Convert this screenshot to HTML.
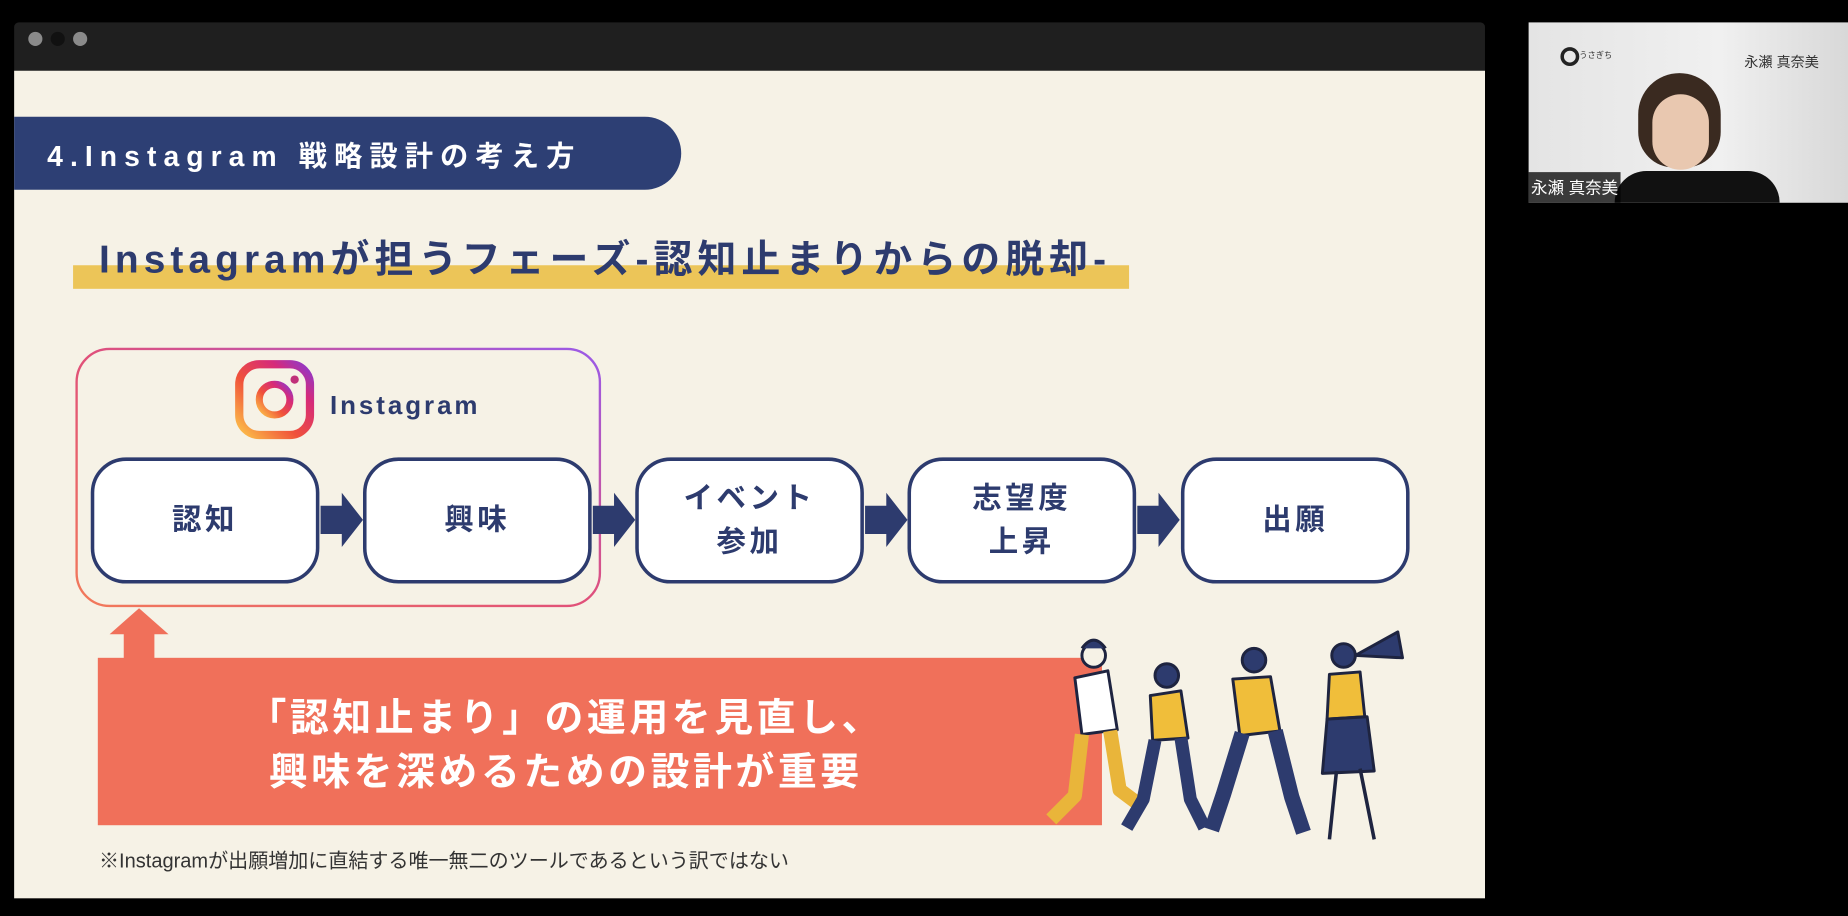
<!DOCTYPE html>
<html><head><meta charset="utf-8"><style>
html,body{margin:0;padding:0;background:#000;width:1848px;height:916px;overflow:hidden}
#w{position:absolute;left:0;top:0;width:1568px;height:777px;transform:scale(1.17857,1.17889);transform-origin:0 0;font-family:"Liberation Sans","Noto Sans CJK JP",sans-serif}
.a{position:absolute}
.box{position:absolute;top:388px;width:188px;height:101px;border:3px solid #2d3b6e;border-radius:30px;background:#fff;color:#2d3b6e;font-weight:bold;font-size:25px;letter-spacing:3px;display:flex;align-items:center;justify-content:center;text-align:center;line-height:37px}
</style></head><body><div id="w">
<div class="a" style="left:12px;top:19px;width:1248px;height:41px;background:#1f1f1f;border-radius:4px 4px 0 0"></div>
<div class="a" style="left:24px;top:27px;width:12px;height:12px;border-radius:50%;background:#8a8a8a"></div>
<div class="a" style="left:43px;top:27px;width:12px;height:12px;border-radius:50%;background:#111"></div>
<div class="a" style="left:62px;top:27px;width:12px;height:12px;border-radius:50%;background:#8a8a8a"></div>
<div class="a" style="left:12px;top:60px;width:1248px;height:702px;background:#f6f2e6"></div>
<div class="a" style="left:12px;top:99px;width:566px;height:62px;background:#2d3f74;border-radius:0 31px 31px 0"></div>
<div class="a" style="left:40px;top:113px;color:#fff;font-weight:bold;font-size:24px;letter-spacing:6px;white-space:nowrap">4.Instagram 戦略設計の考え方</div>
<div class="a" style="left:62px;top:225px;width:896px;height:20px;background:#ecc558"></div>
<div class="a" style="left:84px;top:193px;color:#2d3b6e;font-weight:bold;font-size:33px;letter-spacing:4.3px;white-space:nowrap">Instagramが担うフェーズ-認知止まりからの脱却-</div>
<svg class="a" style="left:0;top:0" width="1568" height="777">
<defs><linearGradient id="g" x1="0" y1="1" x2="1" y2="0"><stop offset="0" stop-color="#f27a5a"/><stop offset="0.5" stop-color="#e0507a"/><stop offset="1" stop-color="#9a5ae8"/></linearGradient>
<linearGradient id="g2" x1="0" y1="1" x2="1" y2="0"><stop offset="0" stop-color="#fcc24a"/><stop offset="0.4" stop-color="#f0523a"/><stop offset="0.75" stop-color="#d62a7a"/><stop offset="1" stop-color="#8a3ad0"/></linearGradient></defs>
<rect x="65" y="296" width="444" height="218" rx="28" fill="none" stroke="url(#g)" stroke-width="2"/>
<rect x="203" y="309" width="60" height="60" rx="17" fill="none" stroke="url(#g2)" stroke-width="7"/>
<circle cx="233" cy="339" r="13" fill="none" stroke="url(#g2)" stroke-width="6"/>
<circle cx="250" cy="322" r="3.5" fill="#c0307a"/>
<g fill="#2d3b6e">
<path d="M272 429h18v-11l18 23-18 23v-11h-18z"/>
<path d="M503 429h18v-11l18 23-18 23v-11h-18z"/>
<path d="M734 429h18v-11l18 23-18 23v-11h-18z"/>
<path d="M965 429h18v-11l18 23-18 23v-11h-18z"/>
</g>
<rect x="83" y="558" width="852" height="142" fill="#f0705a"/>
<path d="M105 560v-22h-12l25-22 25 22h-12v22z" fill="#f0705a"/>
<g stroke="#1e2440" stroke-width="2.5" stroke-linejoin="round">
<circle cx="928" cy="556" r="10" fill="#f6f2e6"/><path d="M918 550q10-14 20 0" fill="#2d3b6e"/>
<path d="M912 575l28 -6 8 50-30 4z" fill="#fff"/>
<path d="M918 623l-6 52-20 20 M942 620l8 50 16 12" fill="none" stroke="#e9b53a" stroke-width="12"/>
<circle cx="990" cy="573" r="10" fill="#2d3b6e"/>
<path d="M976 590l26-4 6 40-30 2z" fill="#f0be3a"/>
<path d="M980 628l-10 50-14 24 M1002 626l8 52 12 24" fill="none" stroke="#2d3b6e" stroke-width="11"/>
<circle cx="1064" cy="560" r="10" fill="#2d3b6e"/>
<path d="M1046 576l32-2 8 46-34 4z" fill="#f0be3a"/>
<path d="M1054 622l-16 52-10 30 M1082 620l14 56 10 30" fill="none" stroke="#2d3b6e" stroke-width="13"/>
<circle cx="1140" cy="556" r="10" fill="#2d3b6e"/>
<path d="M1128 572l26 -2 4 38-32 2z" fill="#f0be3a"/>
<path d="M1126 610l34-2 6 46-44 2z" fill="#2d3b6e"/>
<path d="M1134 654l-6 58 M1154 652l12 60" fill="none" stroke-width="3"/>
<path d="M1150 556l36-20 4 22z" fill="#2d3b6e"/>
</g>
</svg>
<div class="a" style="left:280px;top:331px;color:#2d3b6e;font-weight:bold;font-size:22px;letter-spacing:2.5px">Instagram</div>
<div class="box" style="left:77px">認知</div>
<div class="box" style="left:308px">興味</div>
<div class="box" style="left:539px">イベント<br>参加</div>
<div class="box" style="left:770px">志望度<br>上昇</div>
<div class="box" style="left:1002px">出願</div>
<div class="a" style="left:200px;top:586px;width:560px;text-align:center;color:#fff;font-weight:bold;font-size:33px;letter-spacing:3px;line-height:46px">「認知止まり」の運用を見直し、<br>興味を深めるための設計が重要</div>
<div class="a" style="left:84px;top:716px;color:#333;font-size:17px">※Instagramが出願増加に直結する唯一無二のツールであるという訳ではない</div>
<div class="a" style="left:1297px;top:19px;width:271px;height:153px;background:linear-gradient(90deg,#e4e4e4,#f0f0f0 60%,#d8d8d8)"></div>
<div class="a" style="left:1324px;top:40px;width:10px;height:10px;border:3px solid #222;border-radius:50%"></div>
<div class="a" style="left:1340px;top:42px;font-size:7px;color:#333">うさぎち</div>
<div class="a" style="left:1480px;top:44px;font-size:12px;color:#333">永瀬 真奈美</div>
<div class="a" style="left:1390px;top:62px;width:70px;height:80px;border-radius:35px 35px 30px 30px;background:#3a2a20"></div>
<div class="a" style="left:1402px;top:80px;width:48px;height:64px;border-radius:24px;background:#e9c8b0"></div>
<div class="a" style="left:1370px;top:145px;width:140px;height:27px;border-radius:40px 40px 0 0;background:#111"></div>
<div class="a" style="left:1297px;top:146px;width:78px;height:26px;background:rgba(0,0,0,.75);color:#fff;font-size:14px;line-height:26px;text-align:center">永瀬 真奈美</div>
</div></body></html>
